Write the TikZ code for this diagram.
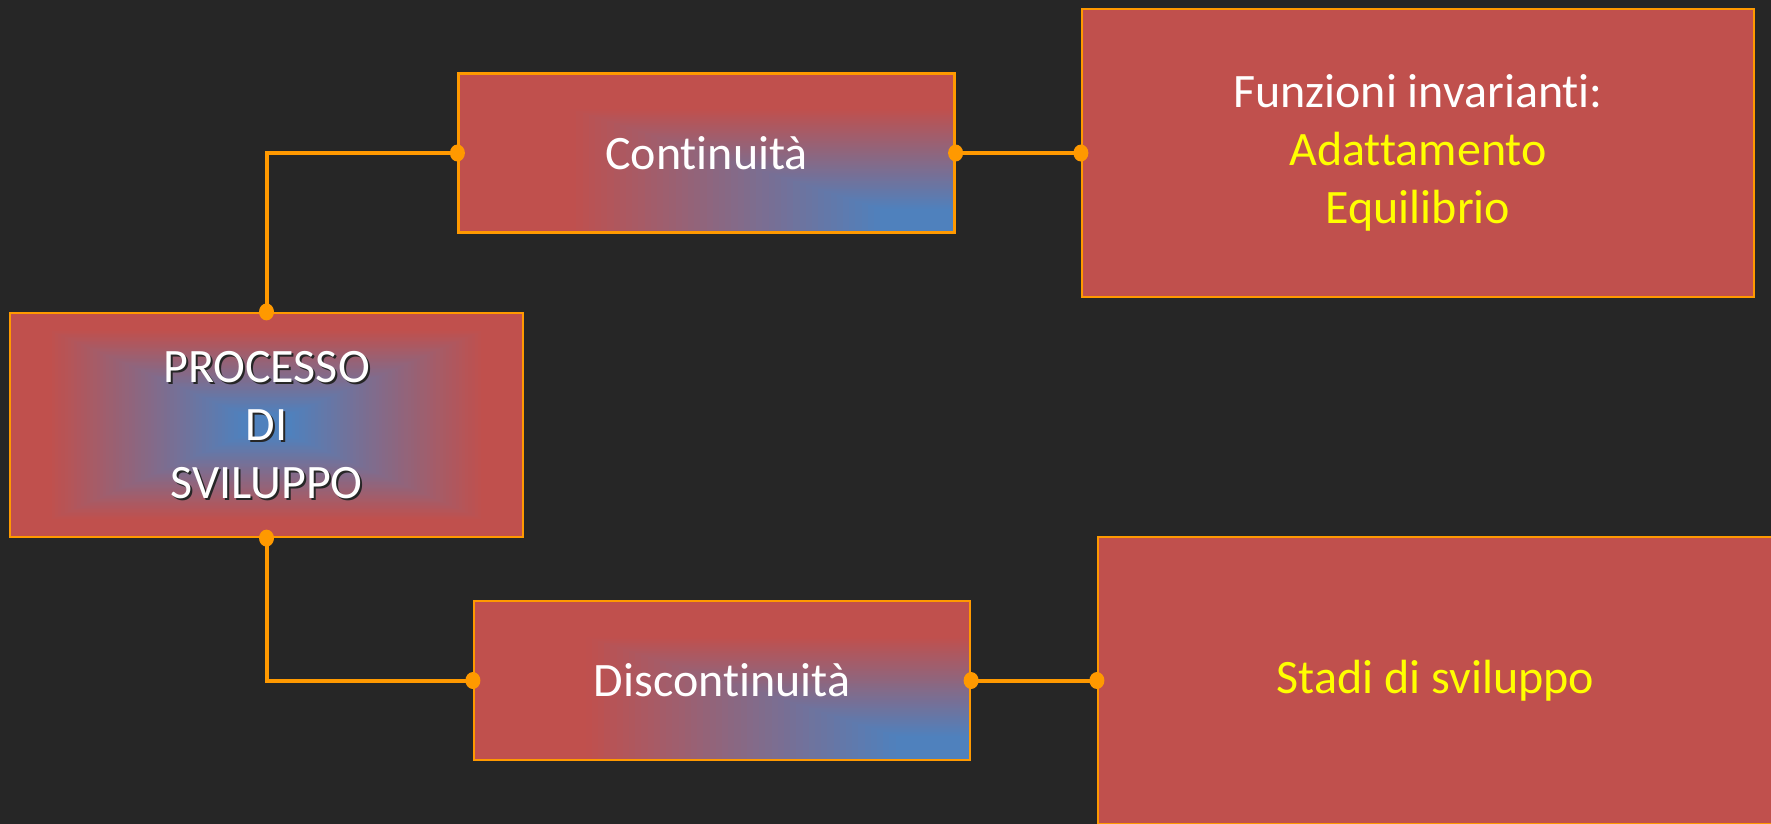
\documentclass[tikz,border=0pt]{standalone}
\usepackage{fontspec}
\setmainfont[Ligatures=NoCommon]{Carlito}
\usetikzlibrary{calc}
\definecolor{bg}{HTML}{262626}
\definecolor{myred}{HTML}{C0504D}
\definecolor{myblue}{HTML}{4F81BD}
\definecolor{myorange}{HTML}{FF9900}
\definecolor{myyellow}{HTML}{FFFF00}
\tikzset{
  box/.style={draw=myorange, line width=2.2pt, fill=myred, rectangle, inner sep=0pt,
    text=white, font=\fontsize{48}{58}\selectfont, align=center},
  cornershade/.style={path picture={
    \foreach \i in {80,...,1}{
      \pgfmathsetmacro\t{\i/80}
      \pgfmathsetmacro\p{max(0,min(100,100*(0.78-\t)/0.63))}
      \fill[myblue!\p!myred] (path picture bounding box.south east) rectangle
        ($(path picture bounding box.south east)!\t!(path picture bounding box.north west)$);
    }}},
  centershade/.style={path picture={
    \foreach \i in {80,...,1}{
      \pgfmathsetmacro\t{\i/80}
      \pgfmathsetmacro\p{max(0,min(100,100*(0.85-\t)/0.75))}
      \fill[myblue!\p!myred]
        ($(path picture bounding box.center)!\t!(path picture bounding box.north west)$) rectangle
        ($(path picture bounding box.center)!\t!(path picture bounding box.south east)$);
    }}},
  conn/.style={draw=myorange, line width=4pt},
  dotmark/.style={fill=myorange}
}
\begin{document}
\begin{tikzpicture}[x=1pt, y=-1pt]
\useasboundingbox (0,0) rectangle (1771,823);
\fill[bg] (-10,-10) rectangle (1781,833);

\node[box, centershade, minimum width=513, minimum height=224] (P) at (266.5,425) {};
\node[text=black!85, font=\fontsize{48}{58}\selectfont, align=center] (Pshadow) at (268.5,427) {PROCESSO\\DI\\SVILUPPO};
\node[text=white, font=\fontsize{48}{58}\selectfont, align=center] (Ptext) at (266.5,425) {PROCESSO\\DI\\SVILUPPO};

\node[box, cornershade, minimum width=496, minimum height=159] (C) at (706.5,153) {Continuità};
\node[box, minimum width=672, minimum height=288] (F) at (1418,153)
  {Funzioni invarianti:\\\textcolor{myyellow}{Adattamento}\\\textcolor{myyellow}{Equilibrio}};
\node[box, cornershade, minimum width=496, minimum height=159] (D) at (722,680.5) {Discontinuità};
\node[box, minimum width=675, minimum height=287] (S) at (1435.5,680.5)
  {\textcolor{myyellow}{Stadi di sviluppo}};

\draw[conn] (P.north) |- (C.west);
\draw[conn] (P.south) |- (D.west);
\draw[conn] (C.east) -- (F.west);
\draw[conn] (D.east) -- (S.west);

\foreach \pt in {P.north, P.south, C.west, C.east, F.west, D.west, D.east, S.west}
  \fill[dotmark] (\pt) ellipse[x radius=7.5, y radius=8.5];
\end{tikzpicture}
\end{document}
